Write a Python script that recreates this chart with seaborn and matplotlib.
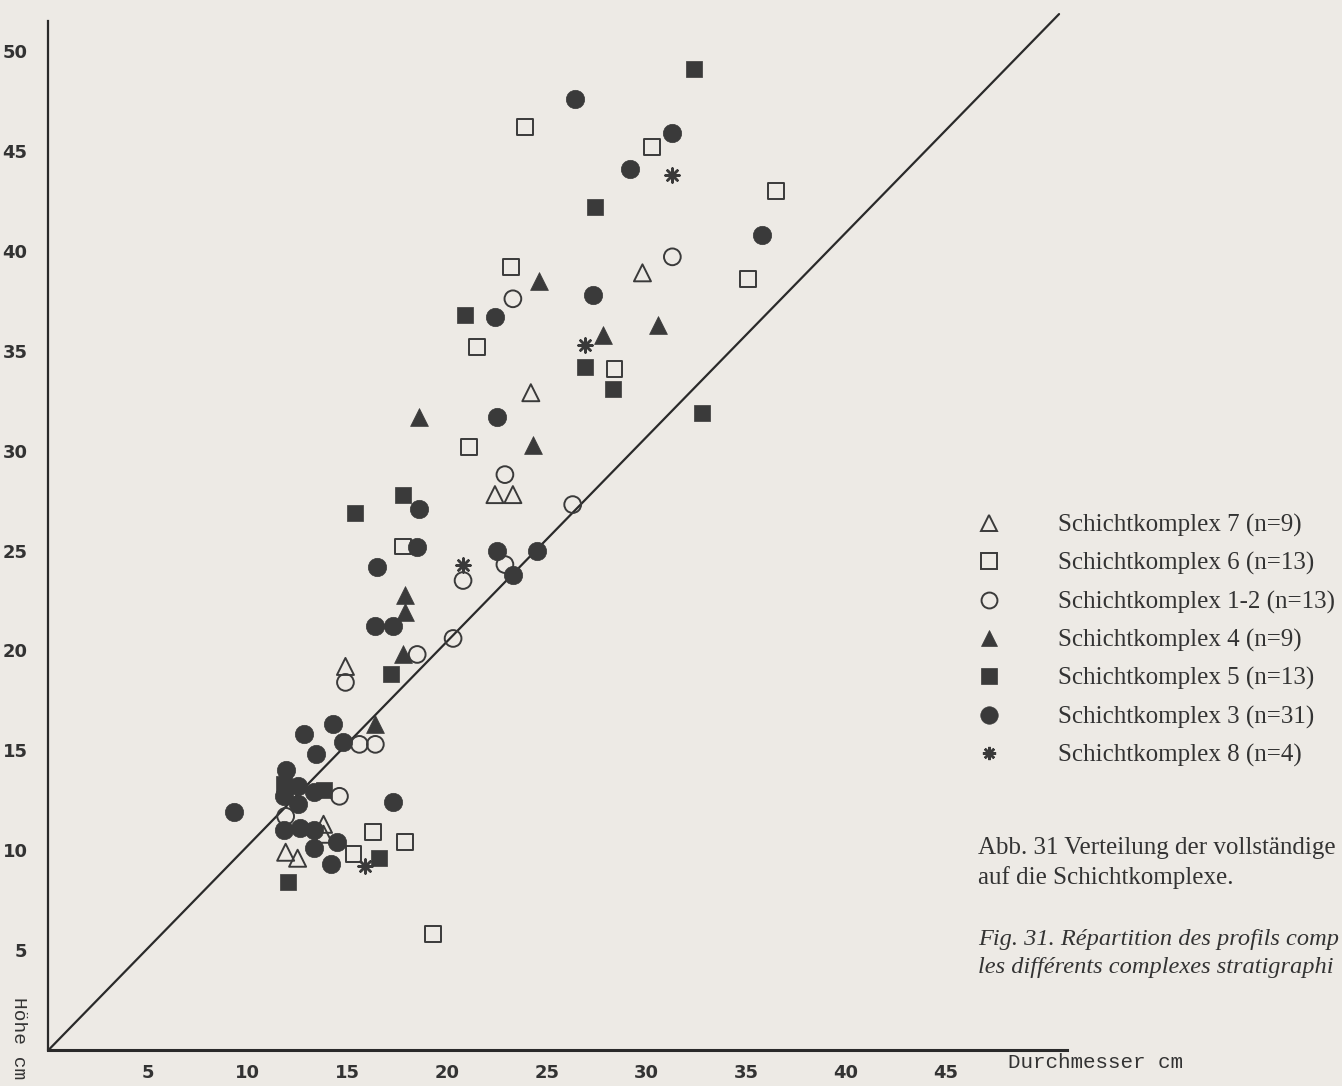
import matplotlib
matplotlib.use("Agg")
import matplotlib.pyplot as plt
import seaborn as sns
import pandas as pd
from matplotlib.lines import Line2D
import logging
logging.getLogger("matplotlib.font_manager").setLevel(logging.ERROR)

sns.set_theme(style="white")
plt.rcParams['font.family'] = ['DejaVu Sans']

# ---------------- data (Durchmesser cm, Höhe cm) ----------------
k7_x = [29.8, 24.2, 22.4, 23.3, 14.9, 13.8, 13.8, 11.9, 12.5]
k7_y = [38.9, 32.9, 27.8, 27.8, 19.2, 11.3, 10.8, 9.9, 9.6]

k6_x = [23.9, 30.3, 36.5, 35.1, 23.2, 21.5, 28.4, 21.1, 17.8, 16.3, 17.9, 15.3, 19.3]
k6_y = [46.2, 45.2, 43.0, 38.6, 39.2, 35.2, 34.1, 30.2, 25.2, 10.9, 10.4, 9.8, 5.8]

k12_x = [31.3, 23.3, 26.3, 22.9, 22.9, 20.8, 20.3, 18.5, 14.9, 15.6, 16.4, 14.6, 11.9]
k12_y = [39.7, 37.6, 27.3, 28.8, 24.3, 23.5, 20.6, 19.8, 18.4, 15.3, 15.3, 12.7, 11.7]

k4_x = [24.6, 30.6, 27.8, 18.6, 24.3, 17.9, 17.9, 17.8, 16.4]
k4_y = [38.5, 36.3, 35.8, 31.7, 30.3, 22.8, 21.9, 19.8, 16.3]

k5_x = [32.4, 27.4, 20.9, 26.9, 28.3, 32.8, 17.8, 15.4, 17.2, 13.8, 16.6, 12.0, 11.8]
k5_y = [49.1, 42.2, 36.8, 34.2, 33.1, 31.9, 27.8, 26.9, 18.8, 13.0, 9.6, 8.4, 13.3]

k3_x = [26.4, 31.3, 29.2, 35.8, 27.3, 22.4, 22.5, 18.6, 18.5, 22.5, 24.5, 23.3, 16.5,
        16.4, 17.3, 14.3, 12.8, 14.8, 13.4, 11.9, 12.5, 13.3, 11.8, 17.3, 9.3, 12.5,
        11.8, 12.6, 13.3, 13.3, 14.5, 14.2]
k3_y = [47.6, 45.9, 44.1, 40.8, 37.8, 36.7, 31.7, 27.1, 25.2, 25.0, 25.0, 23.8, 24.2,
        21.2, 21.2, 16.3, 15.8, 15.4, 14.8, 14.0, 13.2, 12.9, 12.7, 12.4, 11.9, 12.3,
        11.0, 11.1, 11.0, 10.1, 10.4, 9.3]

k8_x = [31.3, 26.9, 20.8, 15.9]
k8_y = [43.8, 35.3, 24.3, 9.2]

labels = ["Schichtkomplex 7 (n=9)", "Schichtkomplex 6 (n=13)", "Schichtkomplex 1-2 (n=13)",
          "Schichtkomplex 4 (n=9)", "Schichtkomplex 5 (n=13)", "Schichtkomplex 3 (n=31)",
          "Schichtkomplex 8 (n=4)"]
xticks = [5, 10, 15, 20, 25, 30, 35, 40, 45]
yticks = [5, 10, 15, 20, 25, 30, 35, 40, 45, 50]

series = [(k7_x, k7_y), (k6_x, k6_y), (k12_x, k12_y), (k4_x, k4_y),
          (k5_x, k5_y), (k3_x, k3_y), (k8_x, k8_y)]
frames = []
for lab, (xs, ys) in zip(labels, series):
    frames.append(pd.DataFrame({"Durchmesser": xs, "Hoehe": ys, "Komplex": lab}))
df = pd.concat(frames, ignore_index=True)

# ---------------- styling ----------------
BG = "#edeae5"
INK = "#3a3a3a"
LINE = "#2a2a2a"
TXT = "#333333"

# marker, size(s), filled, linewidth
styles = {
    labels[0]: ("^", 150, False, 1.4),
    labels[1]: ("s", 130, False, 1.4),
    labels[2]: ("o", 145, False, 1.4),
    labels[3]: ("^", 165, True, 0.5),
    labels[4]: ("s", 130, True, 0.5),
    labels[5]: ("o", 175, True, 0.5),
    labels[6]: ((8, 2, 0), 100, True, 1.8),
}

fig = plt.figure(figsize=(13.42, 10.86), dpi=100, facecolor=BG)
ax = fig.add_axes([0.0361, 0.0331, 0.759, 0.9475])
ax.set_facecolor(BG)

# diagonal reference line
ax.plot([0, 50.7], [0, 51.85], color=LINE, lw=1.6, zorder=2, clip_on=False)

for lab in labels:
    sub = df[df["Komplex"] == lab]
    mk, s, filled, lw = styles[lab]
    if filled:
        sns.scatterplot(data=sub, x="Durchmesser", y="Hoehe", ax=ax, marker=mk, s=s,
                        color=INK, edgecolor=INK, linewidth=lw, legend=False, zorder=3)
    else:
        sns.scatterplot(data=sub, x="Durchmesser", y="Hoehe", ax=ax, marker=mk, s=s,
                        color=INK, facecolor="none", edgecolor=INK, linewidth=lw,
                        legend=False, zorder=4)

ax.set_xlim(0, 51.1)
ax.set_ylim(0, 51.5)
for side in ["top", "right"]:
    ax.spines[side].set_visible(False)
ax.spines["left"].set_color(LINE)
ax.spines["left"].set_linewidth(1.6)
ax.spines["bottom"].set_color(LINE)
ax.spines["bottom"].set_linewidth(2.2)
ax.set_xticks(xticks)
ax.set_yticks(yticks)
tick_font = dict(family=["Liberation Sans Narrow", "DejaVu Sans"], weight="bold", size=13)
ax.set_xticklabels([str(t) for t in xticks], fontdict=tick_font, color=TXT)
ax.set_yticklabels([str(t) for t in yticks], fontdict=tick_font, color=TXT)
ax.tick_params(axis="x", direction="out", length=8, width=1.5, color=LINE, pad=2)
ax.tick_params(axis="y", direction="out", length=11, width=1.5, color=LINE, pad=4)
ax.set_xlabel("")
ax.set_ylabel("")

# axis titles
fig.text(18 / 1342, 1 - 1038 / 1086, "Höhe cm", rotation=270, ha="center", va="center",
         family="Liberation Mono", size=14, color=TXT)
fig.text(1008 / 1342, 1 - 1063 / 1086, "Durchmesser cm", ha="left", va="center",
         family="Liberation Mono", size=15, color=TXT)

# legend
handles = []
for lab in labels:
    mk, s, filled, lw = styles[lab]
    ms = (s ** 0.5) * 0.95
    if filled:
        h = Line2D([], [], linestyle="none", marker=mk, markersize=ms,
                   markerfacecolor=INK, markeredgecolor=INK, markeredgewidth=lw)
    else:
        h = Line2D([], [], linestyle="none", marker=mk, markersize=ms,
                   markerfacecolor="none", markeredgecolor=INK, markeredgewidth=lw)
    handles.append(h)
fig.legend(handles, labels, loc="upper left", bbox_to_anchor=(976 / 1342, 1 - 514 / 1086),
           frameon=False, borderpad=0, borderaxespad=0, handlelength=1.0,
           handletextpad=2.3, labelspacing=0.61,
           prop=dict(family="Liberation Serif", size=18))
for t in fig.legends[0].get_texts():
    t.set_color(TXT)

# captions (cut at the page edge as in the scan)
fig.text(978 / 1342, 1 - 848 / 1086, "Abb. 31 Verteilung der vollständige",
         ha="left", va="center", family="Liberation Serif", size=18, color=TXT)
fig.text(978 / 1342, 1 - 878 / 1086, "auf die Schichtkomplexe.",
         ha="left", va="center", family="Liberation Serif", size=18, color=TXT)
fig.text(978 / 1342, 1 - 940 / 1086, "Fig. 31. Répartition des profils comp",
         ha="left", va="center", family="Liberation Serif", style="italic",
         size=17.6, color=TXT)
fig.text(978 / 1342, 1 - 968 / 1086, "les différents complexes stratigraphi",
         ha="left", va="center", family="Liberation Serif", style="italic",
         size=17.6, color=TXT)

fig.savefig("out.png", dpi=100, facecolor=BG)
